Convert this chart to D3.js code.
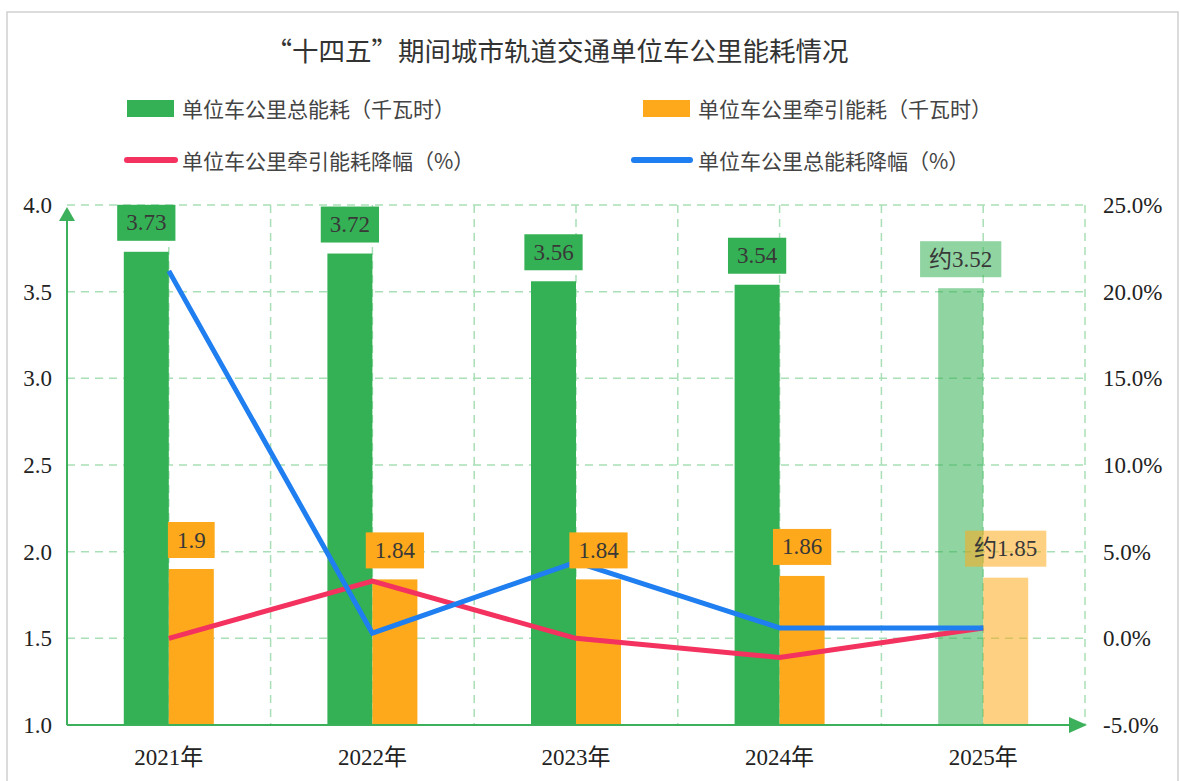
<!DOCTYPE html>
<html>
<head>
<meta charset="utf-8">
<script src="https://cdn.jsdelivr.net/npm/d3@7"></script>
<style>
  body { margin: 0; background: #fff; }
  svg text { font-family: "Liberation Serif", "DejaVu Serif", "Noto Sans CJK SC", serif; }
</style>
</head>
<body>
<div id="gv"></div>
<script>
// values
let years = ["2021年", "2022年", "2023年", "2024年", "2025年"];
let totalEnergy = [3.73, 3.72, 3.56, 3.54, 3.52];
let tractionEnergy = [1.9, 1.84, 1.84, 1.86, 1.85];
let totalLabels = ["3.73", "3.72", "3.56", "3.54", "约3.52"];
let tractionLabels = ["1.9", "1.84", "1.84", "1.86", "约1.85"];
let estimated = [false, false, false, false, true];
let totalDrop = [21.2, 0.3, 4.4, 0.6, 0.6];
let tractionDrop = [0.0, 3.3, 0.0, -1.1, 0.6];
let leftTicks = [1.0, 1.5, 2.0, 2.5, 3.0, 3.5, 4.0];
let rightTicks = [-5, 0, 5, 10, 15, 20, 25];

let width = 1180;
let height = 781;

let green = "#35b155";
let orange = "#fda91b";
let blue = "#1f7ef0";
let red = "#f4325f";
let axisGreen = "#3cb05a";
let gridColor = "#a9dfb6";
let serif = "'Liberation Serif', 'DejaVu Serif', 'Noto Sans CJK SC', serif";

let viz = d3.select("#gv")
  .append("svg")
    .attr("width", width)
    .attr("height", height)
;

// frame
viz.append("rect")
  .attr("x", 7).attr("y", 12)
  .attr("width", 1171).attr("height", 800)
  .attr("fill", "none")
  .attr("stroke", "#cfcfcf")
  .attr("stroke-width", 1.5)
;

let plotLeft = 67, plotRight = 1085, plotTop = 205, plotBottom = 725;

let x = d3.scaleBand().domain(years).range([plotLeft, plotRight]).padding(0);
let xSub = d3.scaleBand().domain(["total", "traction"]).range([-45, 45]);
let xGrid = d3.scaleLinear().domain([0, years.length * 2]).range([plotLeft, plotRight]);
let yLeft = d3.scaleLinear().domain([1, 4]).range([plotBottom, plotTop]);
let yRight = d3.scaleLinear().domain([-5, 25]).range([plotBottom, plotTop]);

function center(d, i){
  return x(years[i]) + x.bandwidth() / 2;
}

// title
viz.append("text")
  .attr("x", 557).attr("y", 49)
  .attr("text-anchor", "middle")
  .attr("dominant-baseline", "central")
  .style("font-family", "'Noto Sans CJK SC', sans-serif")
  .style("font-size", "26.5px")
  .attr("fill", "#333")
  .text("“十四五”期间城市轨道交通单位车公里能耗情况")
;

// legend
let legendItems = [
  {name: "单位车公里总能耗（千瓦时）", type: "rect", color: green, x: 127, y: 108, len: 47, tx: 55},
  {name: "单位车公里牵引能耗（千瓦时）", type: "rect", color: orange, x: 643, y: 108, len: 47, tx: 55},
  {name: "单位车公里牵引能耗降幅（%）", type: "line", color: red, x: 127, y: 160, len: 48, tx: 55},
  {name: "单位车公里总能耗降幅（%）", type: "line", color: blue, x: 634, y: 160, len: 56, tx: 64}
];

let legend = viz.selectAll("g.legend").data(legendItems)
  .enter()
    .append("g")
    .attr("class", "legend")
    .attr("transform", d => "translate(" + d.x + "," + d.y + ")")
;

legend.filter(d => d.type == "rect")
  .append("rect")
    .attr("x", 0).attr("y", -8)
    .attr("width", d => d.len).attr("height", 17)
    .attr("fill", d => d.color)
;

legend.filter(d => d.type == "line")
  .append("line")
    .attr("x1", 0).attr("x2", d => d.len)
    .attr("y1", 0).attr("y2", 0)
    .attr("stroke", d => d.color)
    .attr("stroke-width", 6)
    .attr("stroke-linecap", "round")
;

legend.append("text")
  .attr("x", d => d.tx)
  .attr("y", 0)
  .attr("dominant-baseline", "central")
  .style("font-family", "'Noto Sans CJK SC', sans-serif")
  .style("font-size", "21px")
  .attr("fill", "#444")
  .text(d => d.name)
;

// grid
viz.selectAll("line.hgrid").data(leftTicks.slice(1))
  .enter()
    .append("line")
    .attr("class", "hgrid")
    .attr("x1", plotLeft).attr("x2", plotRight)
    .attr("y1", d => yLeft(d)).attr("y2", d => yLeft(d))
    .attr("stroke", gridColor)
    .attr("stroke-width", 1.5)
    .attr("stroke-dasharray", "8,6")
;

viz.selectAll("line.vgrid").data(d3.range(1, years.length * 2 + 1))
  .enter()
    .append("line")
    .attr("class", "vgrid")
    .attr("x1", d => xGrid(d)).attr("x2", d => xGrid(d))
    .attr("y1", plotTop).attr("y2", plotBottom)
    .attr("stroke", gridColor)
    .attr("stroke-width", 1.5)
    .attr("stroke-dasharray", "8,6")
;

// bars
viz.selectAll("rect.total").data(totalEnergy)
  .enter()
    .append("rect")
    .attr("class", "total")
    .attr("x", (d, i) => center(d, i) + xSub("total"))
    .attr("y", d => yLeft(d))
    .attr("width", xSub.bandwidth())
    .attr("height", d => yLeft(1) - yLeft(d))
    .attr("fill", green)
    .style("opacity", (d, i) => estimated[i] ? 0.55 : 1)
;

viz.selectAll("rect.traction").data(tractionEnergy)
  .enter()
    .append("rect")
    .attr("class", "traction")
    .attr("x", (d, i) => center(d, i) + xSub("traction"))
    .attr("y", d => yLeft(d))
    .attr("width", xSub.bandwidth())
    .attr("height", d => yLeft(1) - yLeft(d))
    .attr("fill", orange)
    .style("opacity", (d, i) => estimated[i] ? 0.55 : 1)
;

// lines
let line = d3.line()
  .x(center)
  .y(d => yRight(d))
;

viz.append("path")
  .datum(tractionDrop)
  .attr("d", line)
  .attr("fill", "none")
  .attr("stroke", red)
  .attr("stroke-width", 5)
;

viz.append("path")
  .datum(totalDrop)
  .attr("d", line)
  .attr("fill", "none")
  .attr("stroke", blue)
  .attr("stroke-width", 5)
;

// value labels
function drawLabels(values, labels, key, color){
  let g = viz.selectAll("g.lab-" + key).data(values)
    .enter()
      .append("g")
      .attr("class", "lab-" + key)
  ;
  let boxes = g.append("rect")
    .attr("fill", color)
    .style("opacity", (d, i) => estimated[i] ? 0.55 : 1)
  ;
  let texts = g.append("text")
    .attr("x", (d, i) => center(d, i) + xSub(key) + xSub.bandwidth() / 2)
    .attr("y", d => yLeft(d) - 29)
    .attr("text-anchor", "middle")
    .attr("dominant-baseline", "central")
    .style("font-family", serif)
    .style("font-size", "23px")
    .attr("fill", "#383838")
    .text((d, i) => labels[i])
  ;
  texts.each(function(d, i){
    let w = this.getComputedTextLength();
    let cx = center(d, i) + xSub(key) + xSub.bandwidth() / 2;
    d3.select(boxes.nodes()[i])
      .attr("x", cx - w / 2 - 9)
      .attr("y", yLeft(d) - 47)
      .attr("width", w + 18)
      .attr("height", 36)
    ;
  });
}

drawLabels(totalEnergy, totalLabels, "total", green);
drawLabels(tractionEnergy, tractionLabels, "traction", orange);

// axes
viz.append("line")
  .attr("x1", plotLeft).attr("x2", plotLeft)
  .attr("y1", plotBottom).attr("y2", plotTop + 14)
  .attr("stroke", axisGreen).attr("stroke-width", 2)
;
viz.append("path")
  .attr("d", "M" + (plotLeft - 8) + "," + (plotTop + 16) + "L" + plotLeft + "," + (plotTop + 2) + "L" + (plotLeft + 8) + "," + (plotTop + 16) + "Z")
  .attr("fill", axisGreen)
;
viz.append("line")
  .attr("x1", plotLeft).attr("x2", plotRight - 14)
  .attr("y1", plotBottom).attr("y2", plotBottom)
  .attr("stroke", axisGreen).attr("stroke-width", 2)
;
viz.append("path")
  .attr("d", "M" + (plotRight - 16) + "," + (plotBottom - 8) + "L" + (plotRight + 2) + "," + plotBottom + "L" + (plotRight - 16) + "," + (plotBottom + 8) + "Z")
  .attr("fill", axisGreen)
;

// tick labels
let leftAxis = viz.append("g")
  .attr("transform", "translate(" + (plotLeft - 15) + ",0)")
  .call(d3.axisLeft(yLeft).tickValues(leftTicks).tickFormat(d3.format(".1f")).tickSize(0).tickPadding(0));
leftAxis.select(".domain").remove();
leftAxis.selectAll("text")
  .style("font-size", "23px")
  .style("font-family", serif)
  .attr("fill", "#222")
;

let rightAxis = viz.append("g")
  .attr("transform", "translate(1103,0)")
  .call(d3.axisRight(yRight).tickValues(rightTicks).tickFormat(d => d.toFixed(1) + "%").tickSize(0).tickPadding(0));
rightAxis.select(".domain").remove();
rightAxis.selectAll("text")
  .style("font-size", "23px")
  .style("font-family", serif)
  .attr("fill", "#222")
;

let bottomAxis = viz.append("g")
  .attr("transform", "translate(0," + (plotBottom + 24) + ")")
  .call(d3.axisBottom(x).tickSize(0).tickPadding(0));
bottomAxis.select(".domain").remove();
bottomAxis.selectAll("text")
  .style("font-size", "23px")
  .style("font-family", serif)
  .attr("fill", "#222")
;
</script>
</body>
</html>
